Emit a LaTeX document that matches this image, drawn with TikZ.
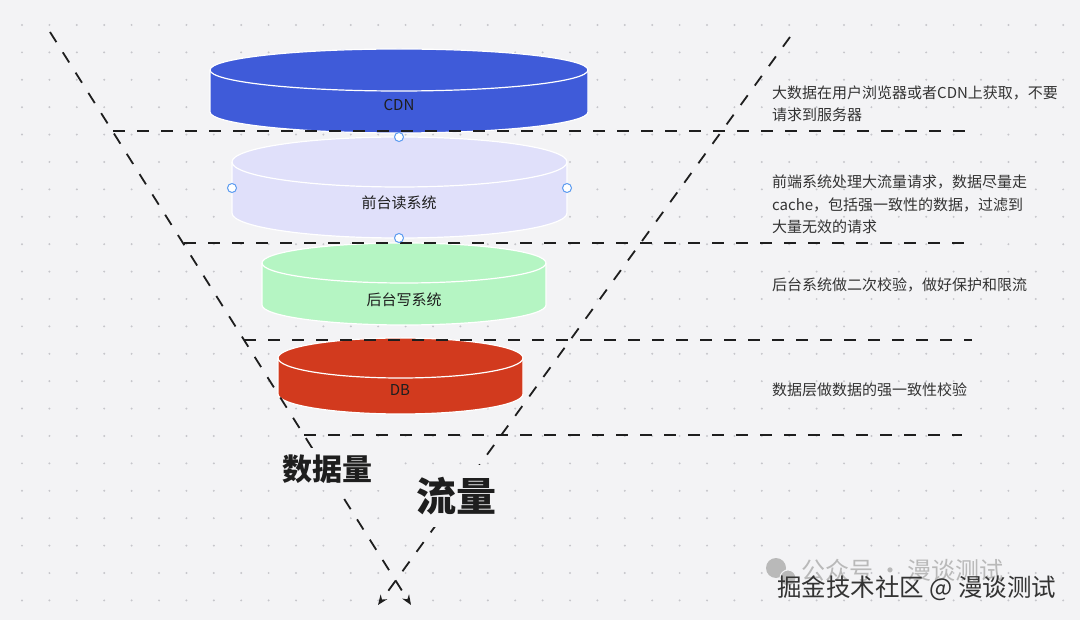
\documentclass[tikz,border=0pt]{standalone}
\usepackage{fontspec}
\setmainfont{Noto Sans CJK SC}
\usetikzlibrary{arrows.meta}
\definecolor{bgcol}{HTML}{F3F3F5}
\definecolor{dotcol}{HTML}{C6C6CB}
\definecolor{cdncol}{HTML}{3F5BD9}
\definecolor{readcol}{HTML}{E0E0FA}
\definecolor{writecol}{HTML}{B5F5C3}
\definecolor{dbcol}{HTML}{D23A1E}
\definecolor{inkcol}{HTML}{1E1E1E}
\definecolor{notecol}{HTML}{333333}
\definecolor{handlecol}{HTML}{5B9BF0}

\newcommand{\tiercyl}[6]{%
  \path[fill=#6,draw=white,line width=1.2pt] (#1-#4,#2) -- (#1-#4,#3)
    arc[start angle=180,end angle=360,x radius=#4pt,y radius=#5pt]
    -- (#1+#4,#2)
    arc[start angle=0,end angle=180,x radius=#4pt,y radius=#5pt] -- cycle;
  \draw[white,line width=1.2pt] (#1-#4,#2)
    arc[start angle=180,end angle=360,x radius=#4pt,y radius=#5pt];
}

\begin{document}
\begin{tikzpicture}[x=1pt, y=-1pt, >={Stealth[length=10pt,width=8pt]},
  funnel/.style={inkcol, line width=1.8pt, dash pattern=on 12pt off 12pt},
  tierlbl/.style={text=inkcol, font=\fontsize{15}{18}\selectfont},
  note/.style={text=notecol, anchor=west, align=left, inner sep=0pt, font=\fontsize{15}{22.5}\selectfont},
  axislbl/.style={fill=bgcol, text=inkcol},
  handle/.style={circle, fill=white, draw=handlecol, line width=1pt, inner sep=0pt, minimum size=9pt}]
  \useasboundingbox (0,0) rectangle (1080,620);
  \fill[bgcol] (0,0) rectangle (1080,620);
  \foreach \i in {0,...,38}
    \foreach \j in {0,...,21}
      \fill[dotcol] (22+27.4*\i,25+27.4*\j) circle[radius=1.1pt];

  \tiercyl{399}{70}{112}{189}{21}{cdncol}
  \tiercyl{399.5}{162}{213}{167.5}{25}{readcol}
  \tiercyl{404}{263}{305}{142}{20}{writecol}
  \tiercyl{400.5}{358}{394}{122.5}{20}{dbcol}
  \node[tierlbl] (cdn) at (399,105) {CDN};
  \node[tierlbl] (read) at (399,203) {前台读系统};
  \node[tierlbl] (write) at (404,300) {后台写系统};
  \node[tierlbl] (db) at (400,390) {DB};

  \coordinate (lt) at (50,32);
  \coordinate (lb) at (411,605);
  \coordinate (rt) at (790,37);
  \coordinate (rb) at (378,605);
  \draw[funnel,->] (lt) -- (lb);
  \draw[funnel,->] (rt) -- (rb);

  \coordinate (a1) at (113,131);
  \coordinate (b1) at (976,131);
  \coordinate (a2) at (184,243);
  \coordinate (b2) at (972,243);
  \coordinate (a3) at (244,340);
  \coordinate (b3) at (972,340);
  \coordinate (a4) at (304,435);
  \coordinate (b4) at (962,435);
  \draw[funnel] (a1) -- (b1);
  \draw[funnel] (a2) -- (b2);
  \draw[funnel] (a3) -- (b3);
  \draw[funnel] (a4) -- (b4);

  \node[handle] (hn) at (399,137) {};
  \node[handle] (hw) at (232,188) {};
  \node[handle] (he) at (567,188) {};
  \node[handle] (hs) at (399,238) {};

  \node[axislbl, inner sep=7pt, font=\bfseries\fontsize{30}{30}\selectfont] (volume) at (327,469) {数据量};
  \node[axislbl, inner sep=12pt, font=\bfseries\fontsize{40}{40}\selectfont] (traffic) at (456,496) {流量};

  \node[note] (n1) at (772,104) {大数据在用户浏览器或者CDN上获取，不要\\请求到服务器};
  \node[note] (n2) at (772,204.5) {前端系统处理大流量请求，数据尽量走\\cache，包括强一致性的数据，过滤到\\大量无效的请求};
  \node[note] (n3) at (772,285) {后台系统做二次校验，做好保护和限流};
  \node[note] (n4) at (772,390) {数据层做数据的强一致性校验};

  \fill[gray!55] (776,568) circle[radius=10pt];
  \fill[gray!55, draw=bgcol, line width=1pt] (788,578) circle[radius=8pt];
  \node[anchor=west, inner sep=0pt, text=gray!55, font=\fontsize{24}{24}\selectfont] (wm1) at (801,570) {公众号 · 漫谈测试};
  \node[anchor=west, inner sep=0pt, text=notecol, font=\fontsize{24.5}{25}\selectfont] (wm2) at (777,588) {掘金技术社区 @ 漫谈测试};
\end{tikzpicture}
\end{document}
